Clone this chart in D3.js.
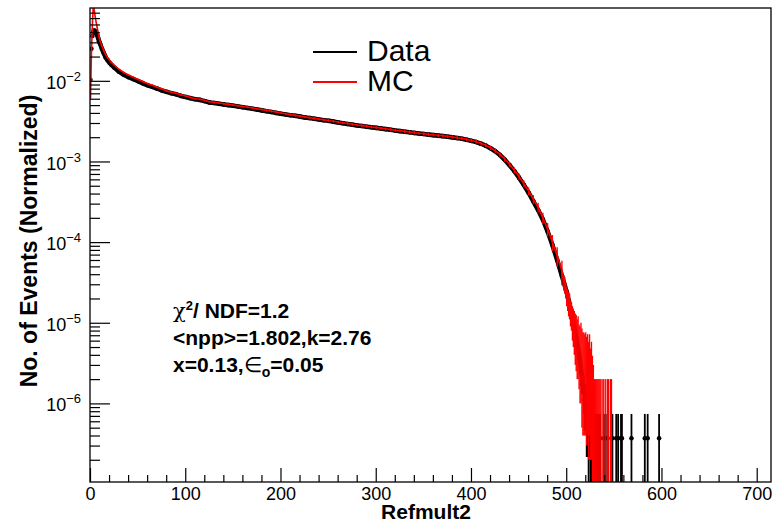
<!DOCTYPE html>
<html>
<head>
<meta charset="utf-8">
<script src="https://cdn.jsdelivr.net/npm/d3@7"></script>
<style>
  body { margin: 0; background: #fff; }
  svg { display: block; font-family: "Liberation Sans", Arial, Helvetica, sans-serif; }
</style>
</head>
<body>
<svg id="chart" width="774" height="523"></svg>
<script>
const binX = [0,1,2,3,4,5,6,7,8,9,10,12,14,16,18,20,22,25,
  30,35,40,45,50,55,60,65,70,75,80,85,90,95,100,105,110,115,120,125,
  130,135,140,145,150,155,160,165,170,175,180,185,190,195,200,205,210,215,220,225,
  230,235,240,245,250,255,260,265,270,275,280,285,290,295,300,305,310,315,320,325,
  330,335,340,345,350,355,360,365,370,375,380,385,390,395,400,405,410,415,420,425,
  430,435,440,445,450,455,460,465,470,475,480,485,490,495];

const dataY = [0.0103,0.025,0.036,0.041,0.042,0.041,0.039,0.037,0.034,0.031,0.029,
  0.025,0.022,0.0195,0.018,0.0168,0.0158,0.0146,
  0.0130,0.0119,0.0111,0.0105,0.0099,0.0093,0.0088,0.0084,0.0080,0.0076,
  0.0073,0.0070,0.0068,0.0065,0.0063,0.0061,0.0059,0.0058,0.0056,0.0054,
  0.0053,0.0052,0.0051,0.0050,0.0049,0.0048,0.0047,0.0046,0.0045,0.0044,
  0.0043,0.0042,0.0041,0.0040,0.0039,0.00383,0.00375,0.00368,0.00360,0.00352,
  0.00345,0.00338,0.00331,0.00325,0.00319,0.00312,0.00305,0.00298,0.00292,0.00286,
  0.00280,0.00275,0.00270,0.00265,0.00261,0.00257,0.00252,0.00247,0.00242,0.00238,
  0.00234,0.00230,0.00226,0.00222,0.00219,0.00215,0.00212,0.00209,0.00206,0.00203,
  0.00199,0.00195,0.00191,0.00186,0.00180,0.00174,0.00166,0.00157,0.00146,0.00134,
  0.00120,0.00105,0.00090,0.00076,0.00063,0.00051,0.00041,0.00032,0.00025,0.00019,
  0.000135,0.000092,0.000060,0.000038];

const mcY = [0.006,0.022,0.05,0.09,0.074,0.062,0.053,0.046,0.040,0.035,0.031,
  0.027,0.0235,0.021,0.0193,0.018,0.0169,0.0156,
  0.0139,0.0127,0.0118,0.0111,0.0104,0.0098,0.0092,0.0088,0.0083,0.0079,
  0.0075,0.0072,0.0070,0.0067,0.0065,0.0062,0.0060,0.0059,0.0057,0.0055,
  0.0054,0.0053,0.0052,0.0051,0.0050,0.0049,0.0048,0.0047,0.0046,0.0045,
  0.0044,0.0043,0.0042,0.0041,0.0040,0.00390,0.00381,0.00373,0.00365,0.00357,
  0.00349,0.00342,0.00335,0.00328,0.00322,0.00315,0.00308,0.00301,0.00295,0.00289,
  0.00283,0.00278,0.00273,0.00268,0.00264,0.00259,0.00254,0.00249,0.00244,0.00240,
  0.00236,0.00232,0.00228,0.00224,0.00221,0.00217,0.00214,0.00211,0.00208,0.00205,
  0.00201,0.00197,0.00193,0.00188,0.00182,0.00176,0.00168,0.00159,0.00148,0.00136,
  0.00122,0.00107,0.00092,0.00078,0.00065,0.00053,0.00043,0.00034,0.00027,0.00020,
  0.000145,0.000100,0.000068,0.000044];

// data: falling edge, then the single / few event bins
const dataEdgeX = [500,503,506,508,510,512,513,515,516];
const dataEdgeY = [2.4e-5,1.7e-5,1.18e-5,8.8e-6,6.5e-6,4.8e-6,4.1e-6,2.6e-6,2.2e-6];
const dataTailX = [518,519,520,521,522,523,524,525,526,527,528,530,532,533,535,539,541,547,548,552,554,557,558,568,582,585,597];
const dataTailY = [1.5e-6,1.1e-6,1.1e-6,7.4e-7,7.4e-7,3.7e-7,7.4e-7,3.7e-7,3.7e-7,7.4e-7,3.7e-7,3.7e-7,3.7e-7,3.7e-7,3.7e-7,
  3.7e-7,3.7e-7,3.7e-7,3.7e-7,3.7e-7,3.7e-7,3.7e-7,3.7e-7,3.7e-7,3.7e-7,3.7e-7,3.7e-7];

// MC tail, bin by bin with its error
const mcTailX = [497,498,499,500,501,502,503,504,505,506,507,508,509,510,511,512,513,514,515,516,
  517,518,519,520,521,522,523,524,525,526,527,528,529,530,531,532,533,534,535,536,538,539,541,543,544,546,547];
const mcTailY = [3.2e-5,3.0e-5,2.6e-5,2.2e-5,2.0e-5,1.8e-5,1.7e-5,1.4e-5,1.3e-5,1.1e-5,1.0e-5,9e-6,8e-6,7.5e-6,6.5e-6,7e-6,5.5e-6,5e-6,5.5e-6,4.5e-6,
  4e-6,4e-6,3.8e-6,4e-6,3.5e-6,3.8e-6,3e-6,3.8e-6,2.5e-6,3e-6,2e-6,1.5e-6,1e-6,1e-6,1e-6,1e-6,1e-6,1e-6,1e-6,1e-6,1e-6,1e-6,1e-6,1e-6,1e-6,1e-6,1e-6];
const mcTailErr = [7e-6,7e-6,6e-6,6e-6,6e-6,6e-6,6e-6,5e-6,5e-6,5e-6,5e-6,5e-6,5e-6,5e-6,4.5e-6,5e-6,4e-6,4e-6,4.5e-6,4e-6,
  3.6e-6,3.6e-6,3.4e-6,3.6e-6,3.2e-6,3.4e-6,2.8e-6,3.4e-6,2.3e-6,2.8e-6,1.9e-6,1.5e-6,1e-6,1e-6,1e-6,1e-6,1e-6,1e-6,1e-6,1e-6,1e-6,1e-6,1e-6,1e-6,1e-6,1e-6,1e-6];

const xTicks = [0,100,200,300,400,500,600,700];
const yTicks = [1e-6,1e-5,1e-4,1e-3,1e-2];
const legendNames = ["Data","MC"];
const legendColors = ["#000000","#ff0000"];
const fitText = ["NDF=1.2","<npp>=1.802,k=2.76","x=0.13,"];

const dataUnit = 3.7e-7; // weight of one data event
const mcUnit = 5e-6;     // rough weight of one MC event

const svg = d3.select("#chart");
const frameL = 90, frameR = 771, frameT = 8, frameB = 482;

const x = d3.scaleLinear().domain([0, 715]).range([frameL, frameR]);
const y = d3.scaleLog().domain([1.06e-7, 0.08]).range([frameB, frameT]);
const yLow = y.domain()[0] * 0.3;

svg.append("clipPath").attr("id", "frame-clip")
  .append("rect").attr("x", frameL).attr("y", frameT)
  .attr("width", frameR - frameL).attr("height", frameB - frameT);

const plot = svg.append("g").attr("clip-path", "url(#frame-clip)");

// ---- data (black markers + errors) ----
const dataPts = binX.map((d, i) => ({x: d, v: dataY[i]}))
  .concat(dataEdgeX.map((d, i) => ({x: d, v: dataEdgeY[i]})));
const tailPts = dataTailX.map((d, i) => ({x: d, v: dataTailY[i]}));
const allData = dataPts.concat(tailPts);

plot.append("path")
  .datum(dataPts.filter(d => d.x >= 3))
  .attr("d", d3.line().x(d => x(d.x + 0.5)).y(d => y(d.v)))
  .attr("fill", "none").attr("stroke", "#000")
  .attr("stroke-width", 4.6).attr("stroke-linejoin", "round");

plot.selectAll(".derr").data(allData).enter().append("line")
  .attr("class", "derr")
  .attr("x1", d => x(d.x + 0.5)).attr("x2", d => x(d.x + 0.5))
  .attr("y1", d => y(d.v + Math.sqrt(d.v * dataUnit)))
  .attr("y2", d => y(Math.max(d.v - Math.sqrt(d.v * dataUnit), yLow)))
  .attr("stroke", "#000").attr("stroke-width", 1.8);

plot.selectAll(".dpt").data(allData).enter().append("circle")
  .attr("class", "dpt")
  .attr("cx", d => x(d.x + 0.5)).attr("cy", d => y(d.v))
  .attr("r", 2.3).attr("fill", "#000");

// ---- MC (red histogram with error boxes) ----
const mcPts = binX.map((d, i) => ({x: d, v: mcY[i], e: Math.sqrt(mcY[i] * mcUnit)}));
const mcTail = mcTailX.map((d, i) => ({x: d, v: mcTailY[i], e: mcTailErr[i]}));
const mcAll = mcPts.concat(mcTail);

plot.selectAll(".merr").data(mcAll.filter(d => d.x >= 3)).enter().append("rect")
  .attr("class", "merr")
  .attr("x", d => x(d.x) - 0.2).attr("width", x(1) - x(0) + 0.4)
  .attr("y", d => y(d.v + d.e))
  .attr("height", d => y(Math.max(d.v - d.e, yLow)) - y(d.v + d.e))
  .attr("fill", "#ff0000");

plot.append("path")
  .datum(mcPts.concat(mcTail.slice(0, 1)))
  .attr("d", d3.line().x(d => x(d.x + 0.5)).y(d => y(d.v)))
  .attr("fill", "none").attr("stroke", "#ff0000").attr("stroke-width", 1.6);

// ---- axes (ROOT style, ticks inside the frame) ----
const xMinor = d3.range(0, 715, 20).filter(v => v % 100 !== 0);
const yMinor = [];
for (let e = -7; e <= -2; e++) {
  for (let k = 2; k <= 9; k++) {
    const v = k * Math.pow(10, e);
    if (v > y.domain()[0] && v < y.domain()[1]) yMinor.push(v);
  }
}

function styleAxis(g) {
  g.select(".domain").remove();
  g.selectAll(".tick line").attr("stroke", "#000").attr("stroke-width", 1.2);
  g.selectAll(".tick text").attr("fill", "#000")
    .attr("font-family", "'Liberation Sans', Arial, sans-serif").attr("font-size", 18);
}

svg.append("g").attr("transform", `translate(0,${frameB})`)
  .call(d3.axisBottom(x).tickValues(xMinor).tickSize(-7).tickFormat(""))
  .call(styleAxis);
svg.append("g").attr("transform", `translate(0,${frameB})`)
  .call(d3.axisBottom(x).tickValues(xTicks).tickSize(-14).tickPadding(5).tickFormat(d3.format("d")))
  .call(styleAxis);

svg.append("g").attr("transform", `translate(${frameL},0)`)
  .call(d3.axisLeft(y).tickValues(yMinor).tickSize(-10).tickFormat(""))
  .call(styleAxis);
svg.append("g").attr("transform", `translate(${frameL},0)`)
  .call(d3.axisLeft(y).tickValues(yTicks).tickSize(-20).tickPadding(9))
  .call(styleAxis)
  .call(g => g.selectAll(".tick text").attr("dy", "0.42em").each(function(d) {
    const t = d3.select(this);
    t.text("");
    t.append("tspan").text("10");
    t.append("tspan").attr("dy", -8).attr("font-size", 13)
      .text("\u2212" + Math.round(-Math.log10(d)));
  }));

// frame
svg.append("rect").attr("x", frameL).attr("y", frameT)
  .attr("width", frameR - frameL).attr("height", frameB - frameT)
  .attr("fill", "none").attr("stroke", "#000").attr("stroke-width", 1.3);

// axis titles
svg.append("text").attr("x", 426).attr("y", 519).attr("text-anchor", "middle")
  .attr("font-weight", "bold").attr("font-size", 21).text("Refmult2");
svg.append("text").attr("transform", "translate(37,241) rotate(-90)")
  .attr("text-anchor", "middle").attr("font-weight", "bold").attr("font-size", 23)
  .text("No. of Events (Normalized)");

// legend
const legend = svg.append("g");
legendNames.forEach((name, i) => {
  const ly = 52 + i * 30;
  legend.append("line").attr("x1", 313).attr("x2", 357).attr("y1", ly).attr("y2", ly)
    .attr("stroke", legendColors[i]).attr("stroke-width", 2.2);
  legend.append("text").attr("x", 367).attr("y", ly + 9).attr("font-size", 30)
    .attr("fill", "#000").text(name);
});

// fit annotation
const ann = svg.append("g").attr("font-weight", "bold").attr("font-size", 21).attr("fill", "#000");
const l1 = ann.append("text").attr("x", 173).attr("y", 318);
l1.append("tspan").attr("font-weight", "normal").attr("font-family", "'DejaVu Serif', serif").text("\u03c7");
l1.append("tspan").attr("dy", -8).attr("font-size", 13).text("2");
l1.append("tspan").attr("dy", 8).text("/ " + fitText[0]);
ann.append("text").attr("x", 173).attr("y", 345).text(fitText[1]);
const l3 = ann.append("text").attr("x", 173).attr("y", 372);
l3.append("tspan").text(fitText[2]);
l3.append("tspan").attr("font-weight", "normal").text("\u2208");
l3.append("tspan").attr("dy", 5).attr("font-size", 14).text("o");
l3.append("tspan").attr("dy", -5).text("=0.05");
</script>
</body>
</html>
